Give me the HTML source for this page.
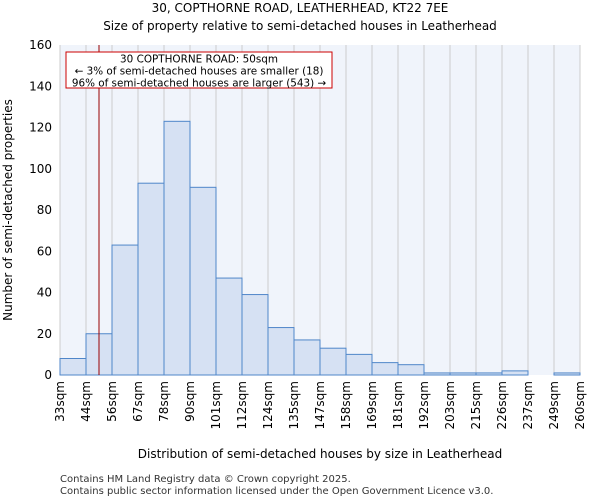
<!DOCTYPE html>
<html><head><meta charset="utf-8"><style>
body{margin:0;background:#fff;font-family:"DejaVu Sans","Liberation Sans",sans-serif}
</style></head><body>
<svg id="c" width="600" height="500" xmlns="http://www.w3.org/2000/svg" font-family="DejaVu Sans, Liberation Sans, sans-serif">
<text x="300" y="12" text-anchor="middle" font-size="12">30, COPTHORNE ROAD, LEATHERHEAD, KT22 7EE</text>
<text x="300" y="30" text-anchor="middle" font-size="12">Size of property relative to semi-detached houses in Leatherhead</text>
<rect x="60" y="45" width="520" height="330" fill="#f0f4fb"/>
<g id="grid"></g><g id="bars"></g><g id="ax"></g>
<text transform="translate(12,210) rotate(-90)" text-anchor="middle" font-size="12">Number of semi-detached properties</text>
<text x="320" y="458" text-anchor="middle" font-size="12">Distribution of semi-detached houses by size in Leatherhead</text>
<text x="60" y="482" font-size="10" fill="#333">Contains HM Land Registry data © Crown copyright 2025.</text>
<text x="60" y="494" font-size="10" fill="#333">Contains public sector information licensed under the Open Government Licence v3.0.</text>
<g id="ann"></g>
</svg>
<script>
const labels=["33sqm","44sqm","56sqm","67sqm","78sqm","90sqm","101sqm","112sqm","124sqm","135sqm","147sqm","158sqm","169sqm","181sqm","192sqm","203sqm","215sqm","226sqm","237sqm","249sqm","260sqm"];
const edges=[33,44,56,67,78,90,101,112,124,135,147,158,169,181,192,203,215,226,237,249,260];
const counts=[8,20,63,93,123,91,47,39,23,17,13,10,6,5,1,1,1,2,0,1];
const yTicks=[0,20,40,60,80,100,120,140,160];
const subject=50;
const NS="http://www.w3.org/2000/svg";
const X0=60,X1=580,Y0=375,Y1=45,yMax=160;
const bw=(X1-X0)/counts.length;
const xi=i=>X0+i*bw;
const xv=v=>{for(let i=0;i<edges.length-1;i++){if(v<=edges[i+1])return xi(i)+bw*(v-edges[i])/(edges[i+1]-edges[i]);}return X1;};
const y=v=>Y0-(Y0-Y1)*v/yMax;
function mk(t,a,p){const e=document.createElementNS(NS,t);for(const k in a)e.setAttribute(k,a[k]);p.appendChild(e);return e;}
const g=document.getElementById('grid'),b=document.getElementById('bars'),ax=document.getElementById('ax'),an=document.getElementById('ann');
yTicks.forEach(t=>{
const tx=mk('text',{x:X0-8,y:y(t)+4,'text-anchor':'end','font-size':12},ax);tx.textContent=t;

});
labels.forEach((s,i)=>{const l=mk('line',{x1:xi(i),x2:xi(i),y1:Y1,y2:Y0,stroke:'#ccc'},g);


const tx=mk('text',{transform:`translate(${xi(i)+4},${Y0+6}) rotate(-90)`,'text-anchor':'end','font-size':12},ax);tx.textContent=s;

});
counts.forEach((c,i)=>{if(c<=0)return;const r=mk('rect',{x:xi(i),y:y(c),width:bw,height:Y0-y(c),fill:'#d6e1f3',stroke:'#4f86c9','stroke-width':1},b);

});
const sl=mk('line',{x1:xv(subject),x2:xv(subject),y1:Y1,y2:Y0,stroke:'#900','stroke-width':1},an);


const bx=mk('rect',{x:66,y:52,width:266,height:36,fill:'#fff',stroke:'#c00','stroke-width':1},an);


["30 COPTHORNE ROAD: 50sqm","← 3% of semi-detached houses are smaller (18)","96% of semi-detached houses are larger (543) →"].forEach((s,i)=>{const t=mk('text',{x:199,y:62.5+i*12,'text-anchor':'middle','font-size':10.4},an);t.textContent=s;

});
</script>
</body></html>
